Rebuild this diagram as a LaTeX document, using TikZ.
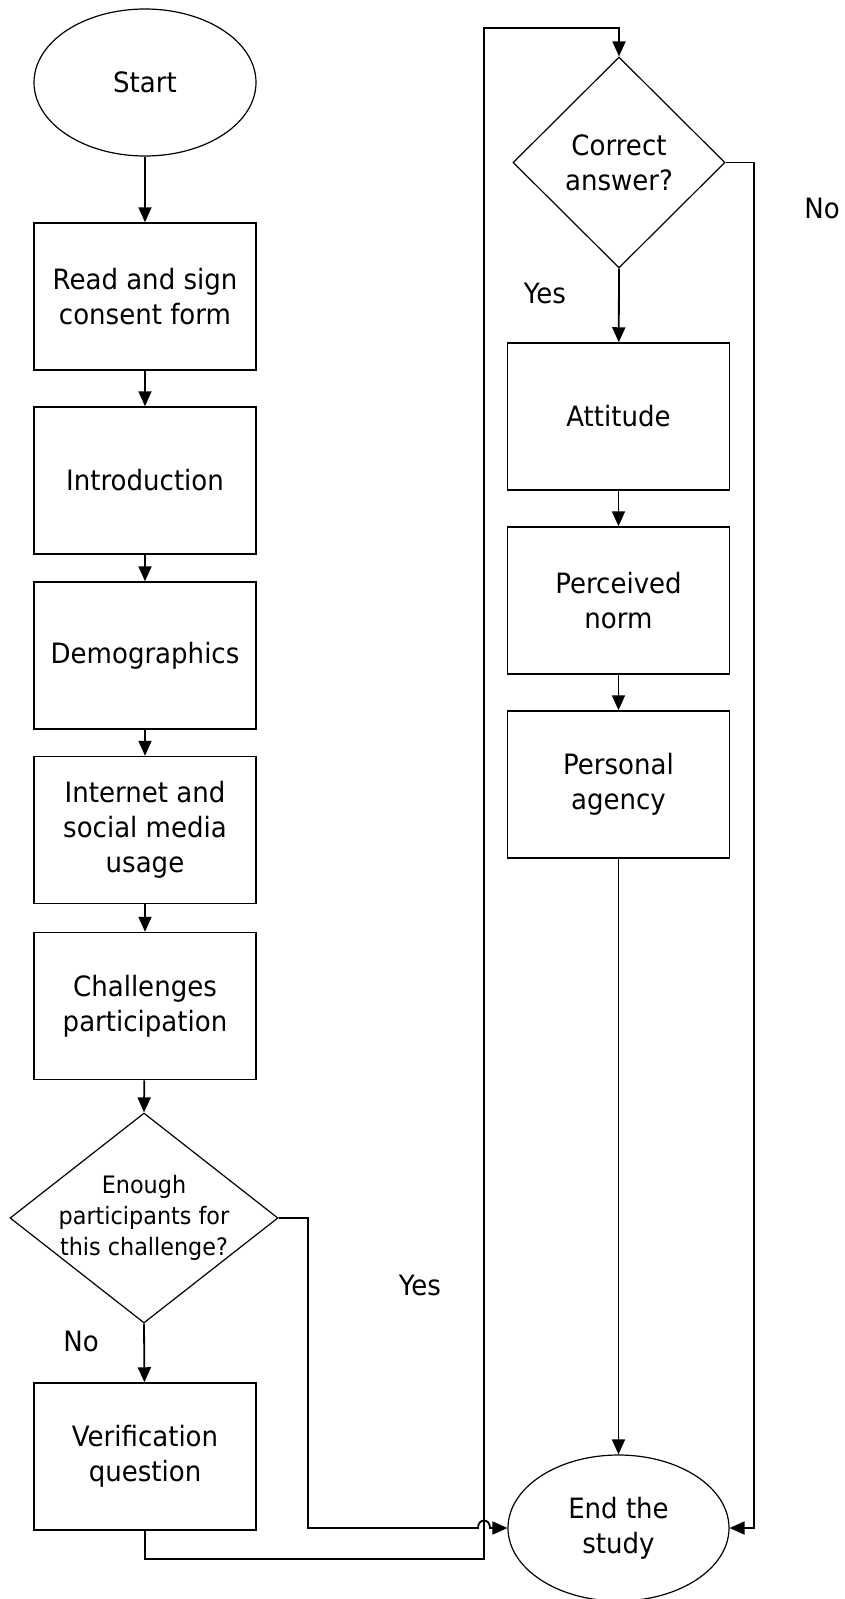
\documentclass[tikz,border=0pt]{standalone}
\usepackage{fontspec}
\setmainfont{DejaVu Sans}[FakeStretch=0.93]
\usetikzlibrary{shapes.geometric,arrows.meta}
\begin{document}
\begin{tikzpicture}[x=1pt,y=-1pt,
  every node/.style={font=\fontsize{28}{35}\selectfont},
  procbox/.style={draw, line width=1.5pt, rectangle, minimum width=222pt, minimum height=147pt, inner sep=0pt, align=center},
  termnode/.style={draw, line width=1.2pt, ellipse, minimum width=222pt, minimum height=147pt, inner sep=0pt, align=center},
  decnode/.style={draw, line width=1.2pt, diamond, inner sep=0pt},
  conn/.style={line width=1.8pt, -{Triangle[length=15pt,width=13pt]}},
  plain/.style={line width=1.8pt},
  lbl/.style={inner sep=0pt}
]
\useasboundingbox[fill=white] (0,0) rectangle (844,1599);

% left column
\node[termnode] (start) at (145,82.5) {Start};
\node[procbox] (b1) at (145,296.5) {Read and sign\\consent form};
\node[procbox] (b2) at (145,480.5) {Introduction};
\node[procbox] (b3) at (145,655.5) {Demographics};
\node[procbox] (b4) at (145,830) {Internet and\\social media\\usage};
\node[procbox] (b5) at (145,1006) {Challenges\\participation};
\node[decnode, minimum width=268pt, minimum height=210pt,
  label={[name=d1t, align=center, font=\fontsize{24}{31}\selectfont]center:Enough\\participants for\\this challenge?}] (d1) at (144,1218) {};
\node[procbox] (b6) at (145,1456.5) {Verification\\question};

% right column
\node[decnode, minimum width=212pt, minimum height=211pt,
  label={[name=d2t, align=center]center:Correct\\answer?}] (d2) at (619,162.5) {};
\node[procbox] (att) at (618.5,416.5) {Attitude};
\node[procbox] (norm) at (618.5,600.5) {Perceived\\norm};
\node[procbox] (agency) at (618.5,784.5) {Personal\\agency};
\node[termnode, minimum width=221pt, minimum height=146pt] (endn) at (618.5,1528) {End the\\study};

% labels
\node[lbl] (lno1) at (81,1341) {No};
\node[lbl] (lyes1) at (420,1285) {Yes};
\node[lbl] (lyes2) at (545,293) {Yes};
\node[lbl] (lno2) at (822,208) {No};

% coordinates
\coordinate (lp1) at (484,1559);
\coordinate (lp2) at (484,28);
\coordinate (yc) at (308,1528);
\coordinate (hopA) at (478,1528);
\coordinate (hopB) at (490,1528);
\coordinate (nc) at (754,1528);

% connectors
\draw[conn] (start) -- (b1);
\draw[conn] (b1) -- (b2);
\draw[conn] (b2) -- (b3);
\draw[conn] (b3) -- (b4);
\draw[conn] (b4) -- (b5);
\draw[conn] (b5) -- (d1.north);
\draw[conn] (d1.south) -- (b6);
\draw[conn] (b6.south) |- (lp1) -- (lp2) -| (d2.north);
\draw[conn] (d1.east) -| (yc) -- (hopA) .. controls (478,1518) and (490,1518) .. (hopB) -- (endn.west);
\draw[conn] (d2.south) -- (att);
\draw[conn] (att) -- (norm);
\draw[conn] (norm) -- (agency);
\draw[conn] (agency) -- (endn.north);
\draw[conn] (d2.east) -| (nc) -- (endn.east);
\end{tikzpicture}
\end{document}
